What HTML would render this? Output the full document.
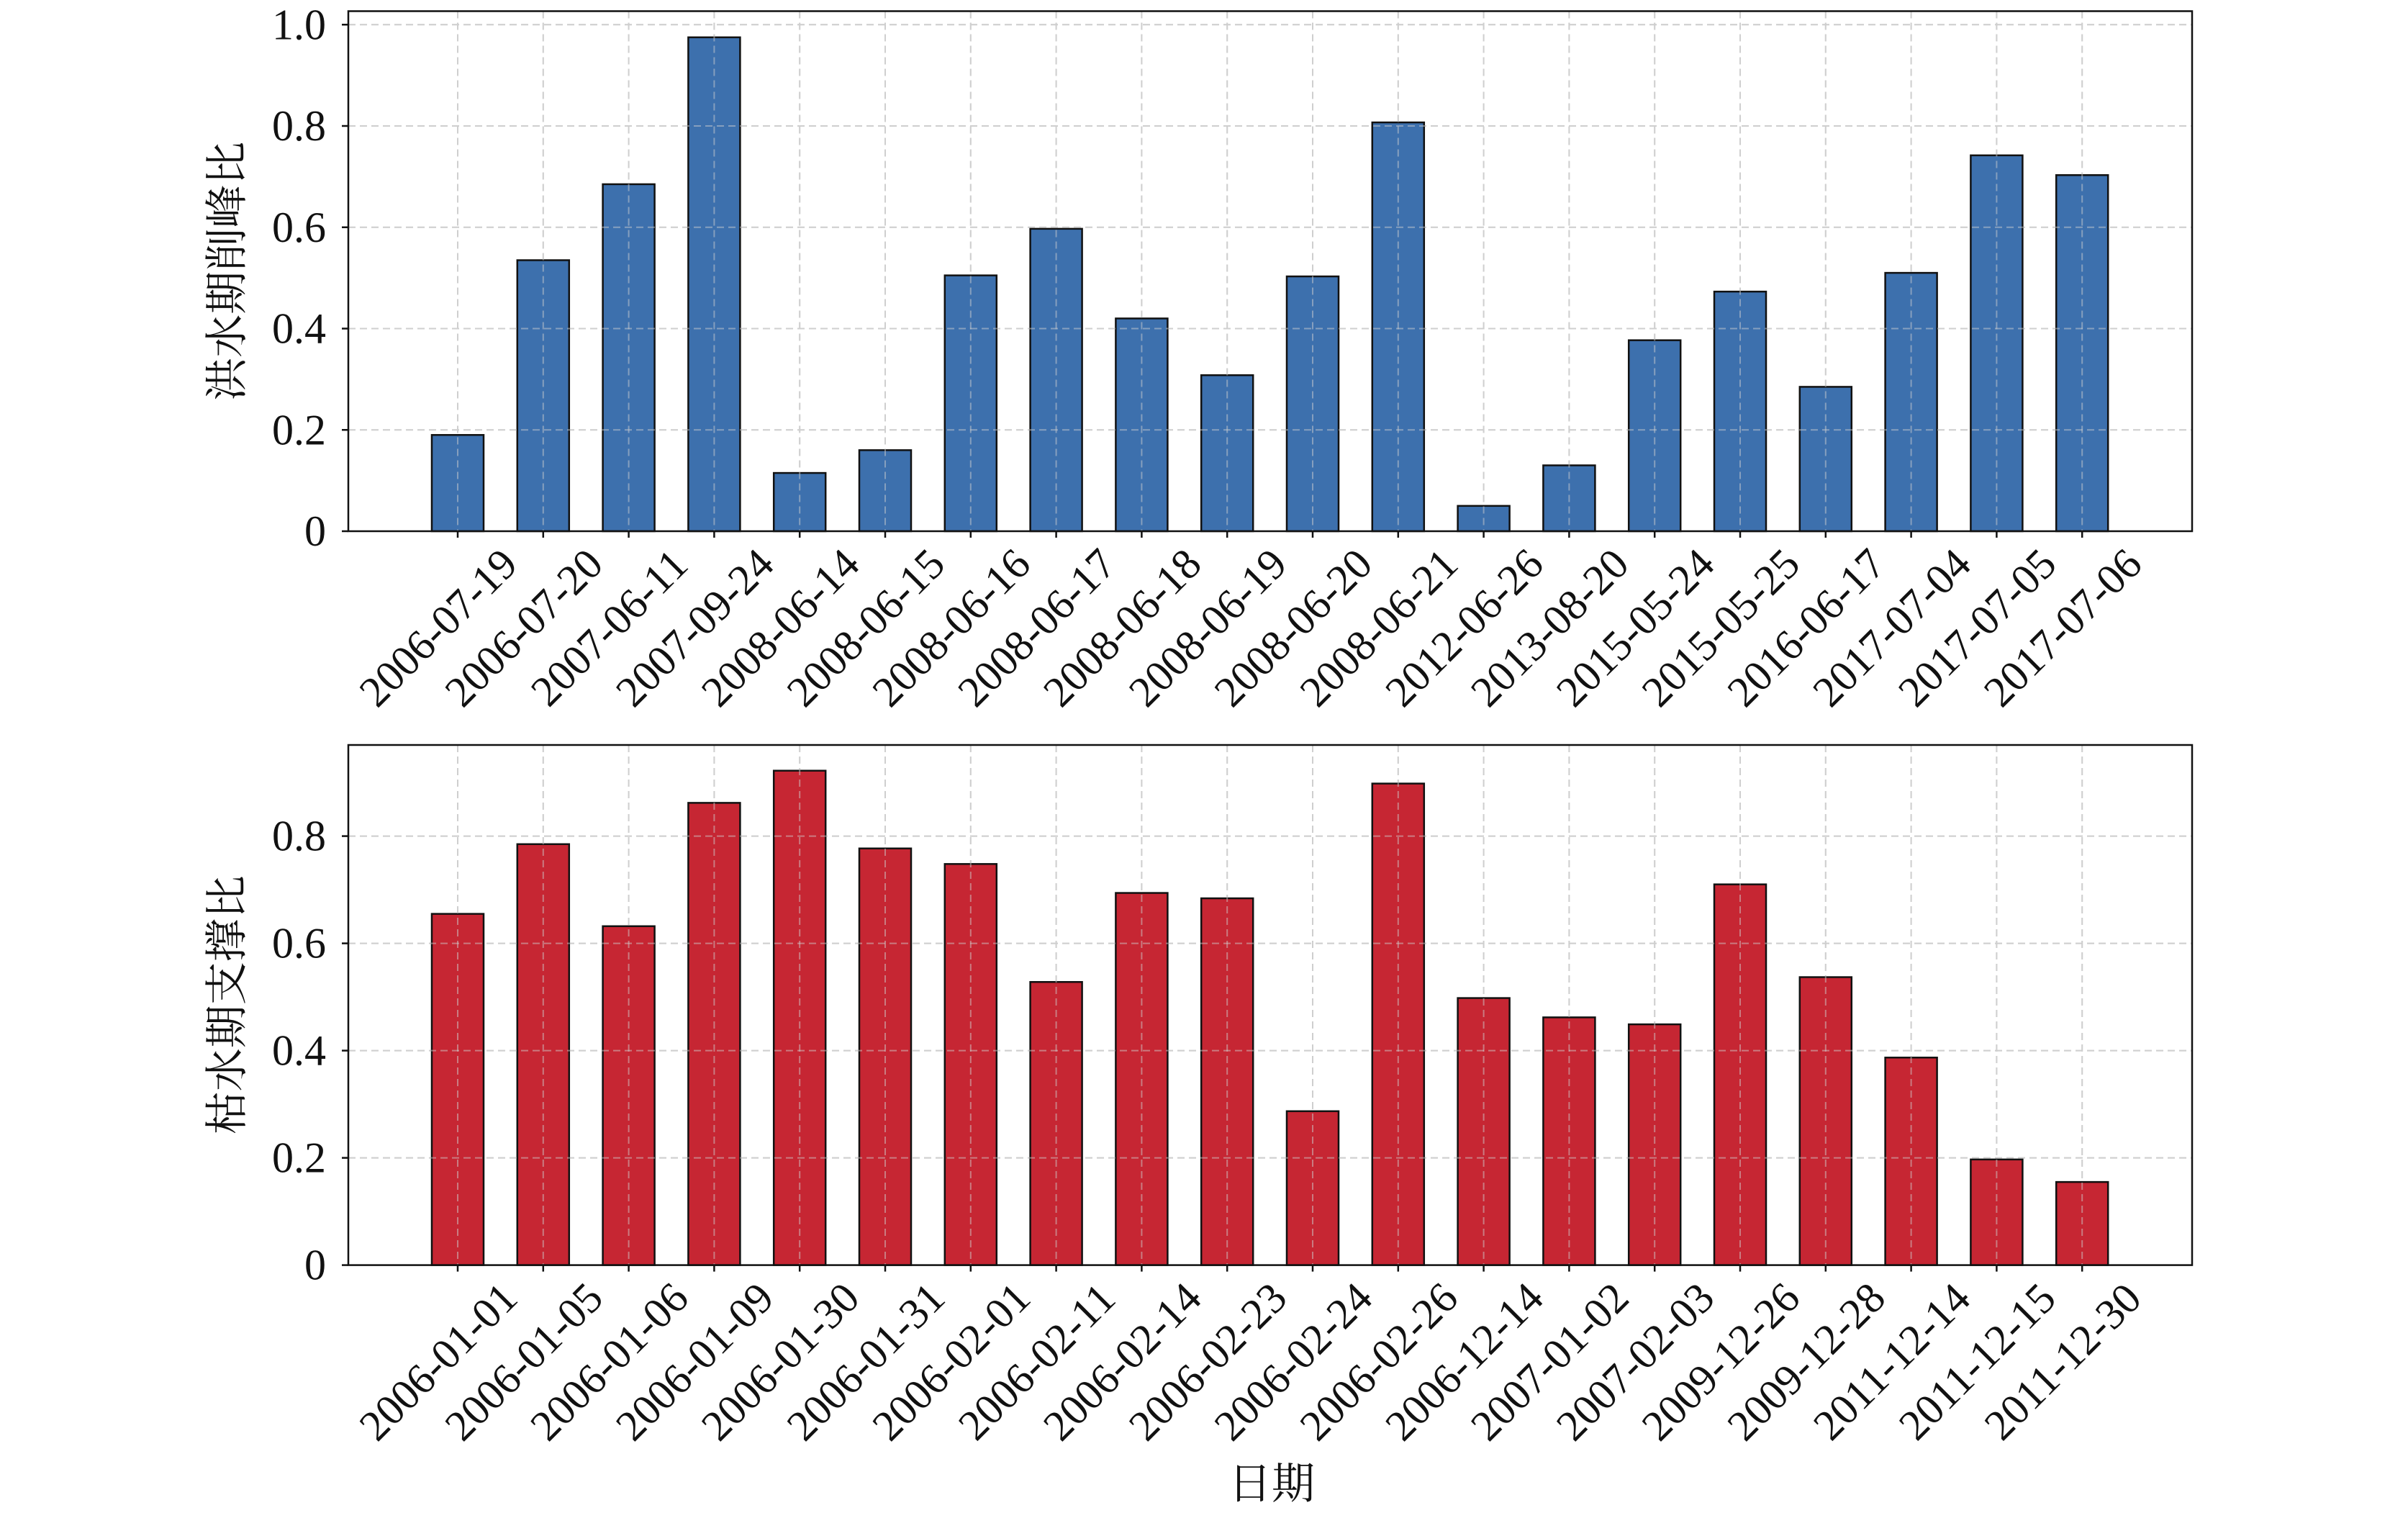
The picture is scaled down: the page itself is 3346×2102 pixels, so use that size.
<!DOCTYPE html>
<html><head><meta charset="utf-8"><style>html,body{margin:0;padding:0;background:#fff}svg{display:block}
text{font-family:"Liberation Serif","Noto Serif CJK SC",serif;fill:#111}</style></head>
<body>
<svg id="s" width="3346" height="2102" viewBox="0 0 3346 2102" xmlns="http://www.w3.org/2000/svg">
<g id="g"></g>
</svg>
<script>
const NS="http://www.w3.org/2000/svg";
const g=document.getElementById('g');
function el(t,a,txt){const e=document.createElementNS(NS,t);for(const k in a)e.setAttribute(k,a[k]);if(txt!==undefined)e.textContent=txt;g.appendChild(e);return e;}
const L=484,R=3046,T0=636,DX=118.8,BW=72;
function panel(top,bottom,per02,nTicks,vals,labels,color,ylab){
  const y=v=>bottom-v/0.2*per02;
  for(let i=0;i<nTicks;i++){el('line',{x1:L,x2:R,y1:y(i*0.2),y2:y(i*0.2),stroke:'#cfcfcf','stroke-width':2,'stroke-dasharray':'10,6'});}
  for(let i=0;i<20;i++){const x=T0+i*DX;el('line',{x1:x,x2:x,y1:top,y2:bottom,stroke:'#cfcfcf','stroke-width':2,'stroke-dasharray':'10,6'});}
  vals.forEach((v,i)=>{const x=T0+i*DX;el('rect',{x:x-BW/2,y:y(v),width:BW,height:bottom-y(v),fill:color,stroke:'#111','stroke-width':2.5});});
  for(let i=0;i<20;i++){const x=T0+i*DX;el('line',{x1:x,x2:x,y1:top,y2:bottom,stroke:'#cfcfcf','stroke-width':2,'stroke-dasharray':'10,6',opacity:0.5});}
  for(let i=0;i<nTicks;i++){el('line',{x1:L,x2:R,y1:y(i*0.2),y2:y(i*0.2),stroke:'#cfcfcf','stroke-width':2,'stroke-dasharray':'10,6',opacity:0.5});}
  el('rect',{x:L,y:top,width:R-L,height:bottom-top,fill:'none',stroke:'#111','stroke-width':2.5});
  for(let i=0;i<nTicks;i++){const yy=y(i*0.2);el('line',{x1:L-9,x2:L,y1:yy,y2:yy,stroke:'#111','stroke-width':2.5});
    const t=i==0?'0':(i*0.2).toFixed(1);
    el('text',{x:453,y:yy,'text-anchor':'end','dominant-baseline':'central','font-size':60},t);}
  labels.forEach((s,i)=>{const x=T0+i*DX;el('line',{x1:x,x2:x,y1:bottom,y2:bottom+9,stroke:'#111','stroke-width':2.5});
    const cx=x-27,cy=bottom+134;
    el('text',{x:cx,y:cy,'text-anchor':'middle','dominant-baseline':'central','font-size':60,transform:`rotate(-45 ${cx} ${cy})`},s);});
  const cy=(top+bottom)/2;
  el('text',{x:316,y:cy,'text-anchor':'middle','dominant-baseline':'central','font-size':60,transform:`rotate(-90 316 ${cy})`},ylab);
}
panel(15.5,738,140.75,6,
 [0.19,0.535,0.685,0.975,0.115,0.16,0.505,0.597,0.42,0.308,0.503,0.807,0.05,0.13,0.377,0.473,0.285,0.51,0.742,0.703],
 ['2006-07-19','2006-07-20','2007-06-11','2007-09-24','2008-06-14','2008-06-15','2008-06-16','2008-06-17','2008-06-18','2008-06-19','2008-06-20','2008-06-21','2012-06-26','2013-08-20','2015-05-24','2015-05-25','2016-06-17','2017-07-04','2017-07-05','2017-07-06'],
 '#3d70ad','洪水期削峰比');
panel(1035,1757.6,149,5,
 [0.655,0.785,0.632,0.862,0.922,0.777,0.748,0.528,0.694,0.684,0.287,0.898,0.498,0.462,0.449,0.71,0.537,0.387,0.197,0.155],
 ['2006-01-01','2006-01-05','2006-01-06','2006-01-09','2006-01-30','2006-01-31','2006-02-01','2006-02-11','2006-02-14','2006-02-23','2006-02-24','2006-02-26','2006-12-14','2007-01-02','2007-02-03','2009-12-26','2009-12-28','2011-12-14','2011-12-15','2011-12-30'],
 '#c62633','枯水期支撑比');
el('text',{x:1767,y:2062,'text-anchor':'middle','dominant-baseline':'central','font-size':60},'日期');
</script>
</body></html>
